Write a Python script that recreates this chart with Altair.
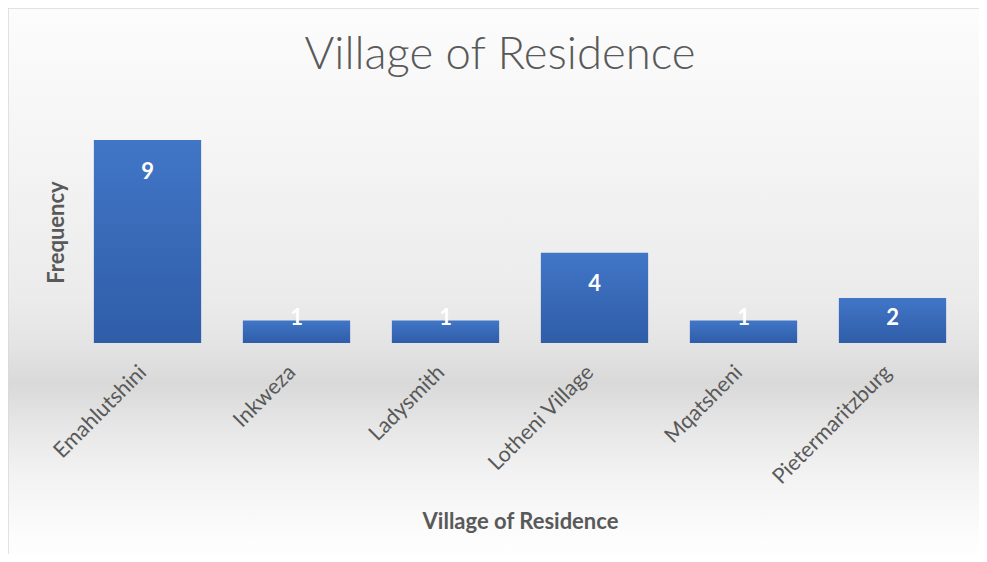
import altair as alt
import pandas as pd

villages = ["Emahlutshini", "Inkweza", "Ladysmith", "Lotheni Village", "Mqatsheni", "Pietermaritzburg"]
frequency = [9, 1, 1, 4, 1, 2]

df = pd.DataFrame({"village": villages, "freq": frequency})
bg_df = pd.DataFrame({"bg": [0]})

W, H = 894, 203
TXT = "#595959"
FONT = "Lato"

bg = alt.Chart(bg_df).mark_rect(
    clip=False,
    stroke="#d9d9d9",
    strokeWidth=1.5,
    fill=alt.Gradient(
        gradient="linear", x1=0, x2=0, y1=0, y2=1,
        stops=[
            alt.GradientStop(offset=0.0, color="#fcfcfc"),
            alt.GradientStop(offset=0.24, color="#f5f5f5"),
            alt.GradientStop(offset=0.52, color="#ebebeb"),
            alt.GradientStop(offset=0.60, color="#e4e4e4"),
            alt.GradientStop(offset=0.67, color="#d9d9d9"),
            alt.GradientStop(offset=0.745, color="#e6e6e6"),
            alt.GradientStop(offset=0.83, color="#f2f2f2"),
            alt.GradientStop(offset=0.95, color="#fdfdfd"),
            alt.GradientStop(offset=1.0, color="#ffffff"),
        ],
    ),
).encode(
    x=alt.value(-65), x2=alt.value(919),
    y=alt.value(-132), y2=alt.value(428),
)

x_enc = alt.X(
    "village:N", sort=villages, title="Village of Residence",
    scale=alt.Scale(paddingInner=0.28, paddingOuter=0.14),
    axis=alt.Axis(
        labelAngle=-45, labelAlign="right", labelBaseline="middle",
        labelPadding=26, labelOffset=-4, labelFontSize=21.5, labelColor=TXT, labelFont=FONT,
        domain=False, ticks=False, grid=False, zindex=2,
        titleFontSize=22, titleFontWeight="bold", titleColor=TXT, titleFont=FONT,
        titleY=178, titleBaseline="middle",
    ),
)

bars = alt.Chart(df).mark_bar(
    fill=alt.Gradient(
        gradient="linear", x1=0, x2=0, y1=0, y2=1,
        stops=[
            alt.GradientStop(offset=0.0, color="#4176c7"),
            alt.GradientStop(offset=1.0, color="#2f5da8"),
        ],
    ),
).encode(
    x=x_enc,
    y=alt.Y(
        "freq:Q", title="Frequency",
        scale=alt.Scale(domain=[0, 9], nice=False),
        axis=alt.Axis(
            labels=False, ticks=False, domain=False, grid=False, zindex=2,
            titleFontSize=22, titleFontWeight="bold", titleColor=TXT, titleFont=FONT,
            titlePadding=5, titleY=92,
        ),
    ),
)

labels = alt.Chart(df).transform_calculate(
    pos="max(datum.freq - 1.4, 1.1)"
).mark_text(
    color="white", fontWeight="bold", fontSize=22, font=FONT, baseline="middle"
).encode(
    x=alt.X("village:N", sort=villages),
    y=alt.Y("pos:Q"),
    text=alt.Text("freq:Q"),
)

chart = alt.layer(bg, bars, labels).properties(
    width=W, height=H,
    title=alt.TitleParams(
        "Village of Residence", fontSize=45.5, font=FONT, fontWeight=300,
        color=TXT, anchor="middle", frame="bounds", baseline="alphabetic", offset=0, dy=107,
    ),
    autosize=alt.AutoSizeParams(type="none"),
    padding={"left": 65, "top": 132, "right": 12, "bottom": 211},
).configure_view(stroke=None).configure(background="white")

chart.save("out.html", embed_options={"renderer": "svg", "actions": False})
